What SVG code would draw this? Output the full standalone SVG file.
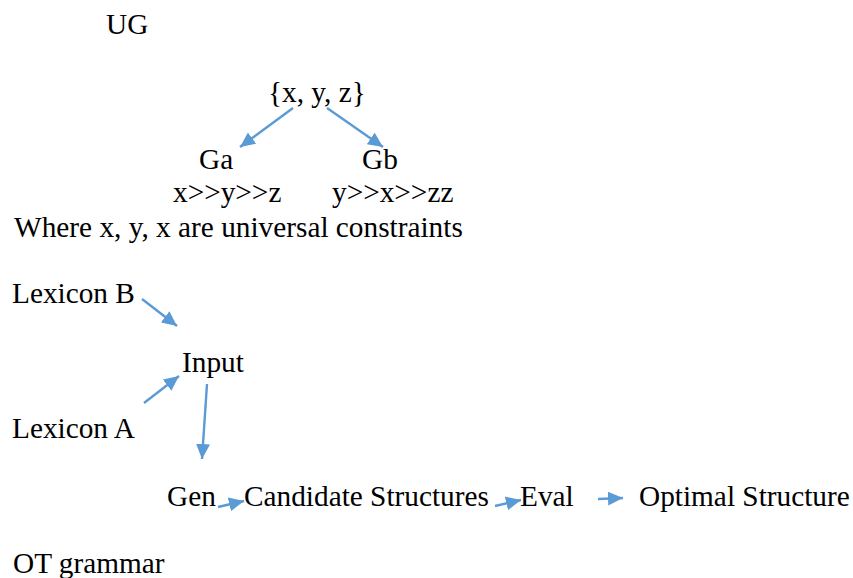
<svg xmlns="http://www.w3.org/2000/svg" width="853" height="578" viewBox="0 0 853 578">
<style>
text{font-family:"Liberation Serif","Times New Roman",serif;font-size:29.3px;fill:#000}
.c{stroke:#5B9BD5;stroke-width:2.4;fill:none;marker-end:url(#ah)}
</style>
<defs>
<marker id="ah" markerUnits="userSpaceOnUse" markerWidth="17" markerHeight="15" refX="15" refY="7" orient="auto" viewBox="0 0 17 15">
<path d="M0,0 L15,7 L0,14 Z" fill="#5B9BD5"/>
</marker>
</defs>
<rect width="853" height="578" fill="#fff"/>
<g id="ug"><text x="106" y="34">UG</text></g>
<g id="set"><text x="268" y="102">{x, y, z}</text></g>
<g id="ga"><text x="199" y="169">Ga</text><text x="173" y="202">x&gt;&gt;y&gt;&gt;z</text></g>
<g id="gb"><text x="362" y="169">Gb</text><text x="332" y="202">y&gt;&gt;x&gt;&gt;zz</text></g>
<g id="where"><text x="14" y="237">Where x, y, x are universal constraints</text></g>
<g id="lexb"><text x="12" y="303">Lexicon B</text></g>
<g id="input"><text x="182" y="372">Input</text></g>
<g id="lexa"><text x="12" y="438">Lexicon A</text></g>
<g id="gen"><text x="167" y="506">Gen</text></g>
<g id="cand"><text x="244" y="506">Candidate Structures</text></g>
<g id="eval"><text x="520" y="506">Eval</text></g>
<g id="opt"><text x="639" y="506">Optimal Structure</text></g>
<g id="ot"><text x="13" y="573">OT grammar</text></g>
<g id="connectors">
<line class="c" x1="293" y1="108" x2="240" y2="147"/>
<line class="c" x1="327" y1="108" x2="383" y2="147"/>
<line class="c" x1="142" y1="299" x2="177" y2="326"/>
<line class="c" x1="144" y1="403" x2="179" y2="376"/>
<line class="c" x1="207" y1="384" x2="202" y2="459"/>
<line class="c" x1="218" y1="507" x2="244" y2="501"/>
<line class="c" x1="495" y1="506" x2="521" y2="500"/>
<line class="c" x1="598" y1="499" x2="623" y2="498"/>
</g>
</svg>
